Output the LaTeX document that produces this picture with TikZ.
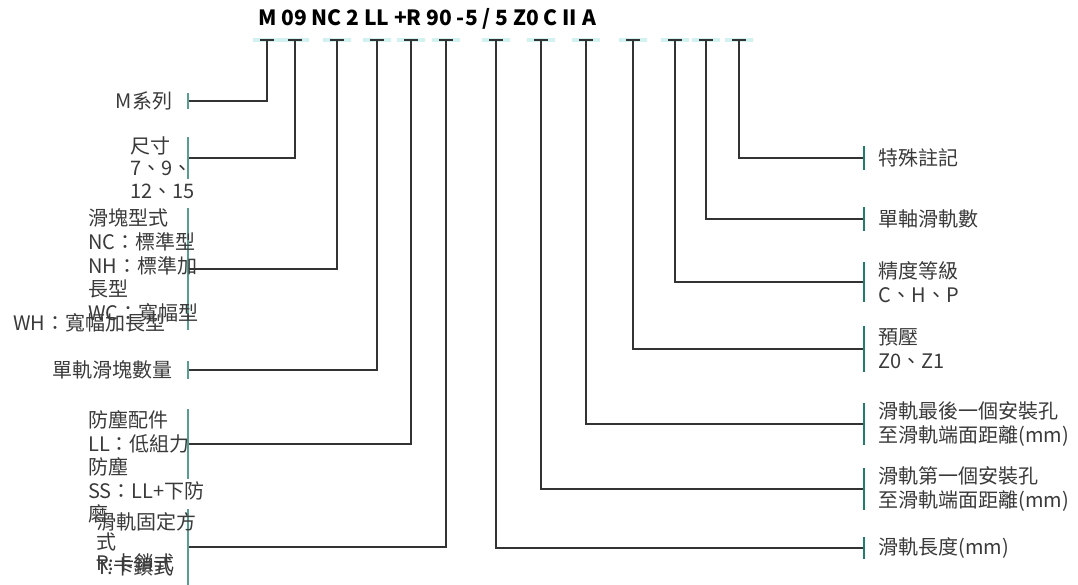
\documentclass[tikz,border=0pt]{standalone}
\usepackage{fontspec}
\setmainfont{Noto Sans CJK TC}
\usepackage{xcolor}
\usepackage{tikz}
\usetikzlibrary{positioning}
\definecolor{barteal}{HTML}{1E7F6B}
\definecolor{capteal}{HTML}{D2F1F1}
\definecolor{linegrey}{HTML}{333333}
\definecolor{textgrey}{HTML}{3A3A3A}
\tikzset{
  codebar/.style={
    rectangle, fill=barteal, inner sep=0pt,
    minimum width=2.6pt, minimum height=#1
  },
  sidebar/.style={
    rectangle, fill=barteal!75, inner sep=0pt,
    minimum width=1.2pt, minimum height=#1
  },
  codeline/.style={draw=linegrey, line width=1.2pt},
  labeltext/.style={
    font=\fontsize{20}{24}\selectfont, text=textgrey,
    inner sep=0pt, align=left
  }
}

\begin{document}
\begin{tikzpicture}[x=1pt, y=-1pt]
\useasboundingbox (0,0) rectangle (1078,585);

\node[font=\fontsize{21}{24}\selectfont\bfseries, text=black] (code) at (427,19) {M 09 NC 2 LL +R 90 -5 / 5 Z0 C II A};

\coordinate (tM) at (267,40);
\coordinate (t09) at (295,40);
\coordinate (tNC) at (337,40);
\coordinate (t2) at (377,40);
\coordinate (tLL) at (411,40);
\coordinate (tR) at (446,40);
\coordinate (t90) at (496,40);
\coordinate (tm5) at (541,40);
\coordinate (t5) at (586,40);
\coordinate (tZ0) at (633,40);
\coordinate (tC) at (675,40);
\coordinate (tII) at (706,40);
\coordinate (tA) at (739,40);

\foreach \t in {tM,t09,tNC,t2,tLL,tR,t90,tm5,t5,tZ0,tC,tII,tA} {
  \fill[capteal] ([xshift=-14pt,yshift=-2pt]\t) rectangle ([xshift=14pt,yshift=2pt]\t);
  \draw[codeline] ([xshift=-7pt]\t) -- ([xshift=7pt]\t);
}

% left side
\node[sidebar=16pt] (bM) at (188,101) {};
\node[sidebar=42pt] (b09) at (188,158) {};
\node[sidebar=122pt] (bNC) at (188,269) {};
\node[sidebar=18pt] (b2) at (188,370) {};
\node[sidebar=70pt] (bLL) at (188,444) {};
\node[sidebar=76pt] (bR) at (188,547) {};

\node[labeltext, left=15pt of bM] (lblM) {M系列};
\node[labeltext, font=\fontsize{20}{22.5}\selectfont, anchor=west] (lbl09) at (130,167.5) {尺寸\\7、9、\\12、15};
\node[labeltext, font=\fontsize{20}{23.75}\selectfont, anchor=west] (lblNC) at (88,265.5) {滑塊型式\\NC：標準型\\NH：標準加\\長型\\WC：寬幅型};
\node[labeltext, anchor=west] (lblWH) at (13,323) {WH：寬幅加長型};
\node[labeltext, left=15pt of b2] (lbl2) {單軌滑塊數量};
\node[labeltext, font=\fontsize{20}{23.5}\selectfont, anchor=west] (lblLL) at (88,467) {防塵配件\\LL：低組力\\防塵\\SS：LL+下防\\磨};
\node[labeltext, font=\fontsize{20}{20.5}\selectfont, anchor=west] (lblR) at (96,542) {滑軌固定方\\式\\R:卡鎖式};
\node[labeltext, anchor=west] (lblT) at (96,567) {T:卡鎖式};

\draw[codeline] (tM) |- (bM);
\draw[codeline] (t09) |- (b09);
\draw[codeline] (tNC) |- (bNC);
\draw[codeline] (t2) |- (b2);
\draw[codeline] (tLL) |- (bLL);
\draw[codeline] (tR) |- (bR);

% right side
\node[codebar=24pt] (bA) at (864,158) {};
\node[codebar=24pt] (bII) at (864,219) {};
\node[codebar=40pt] (bC) at (864,282) {};
\node[codebar=46pt] (bZ0) at (864,349) {};
\node[codebar=42pt] (b5) at (864,424) {};
\node[codebar=42pt] (bm5) at (864,489) {};
\node[codebar=22pt] (b90) at (864,548) {};

\node[labeltext, right=13pt of bA] (lblA) {特殊註記};
\node[labeltext, right=13pt of bII] (lblII) {單軸滑軌數};
\node[labeltext, right=13pt of bC] (lblC) {精度等級\\C、H、P};
\node[labeltext, right=13pt of bZ0] (lblZ0) {預壓\\Z0、Z1};
\node[labeltext, right=13pt of b5] (lbl5) {滑軌最後一個安裝孔\\至滑軌端面距離(mm)};
\node[labeltext, right=13pt of bm5] (lblm5) {滑軌第一個安裝孔\\至滑軌端面距離(mm)};
\node[labeltext, right=13pt of b90] (lbl90) {滑軌長度(mm)};

\draw[codeline] (tA) |- (bA);
\draw[codeline] (tII) |- (bII);
\draw[codeline] (tC) |- (bC);
\draw[codeline] (tZ0) |- (bZ0);
\draw[codeline] (t5) |- (b5);
\draw[codeline] (tm5) |- (bm5);
\draw[codeline] (t90) |- (b90);
\end{tikzpicture}
\end{document}
